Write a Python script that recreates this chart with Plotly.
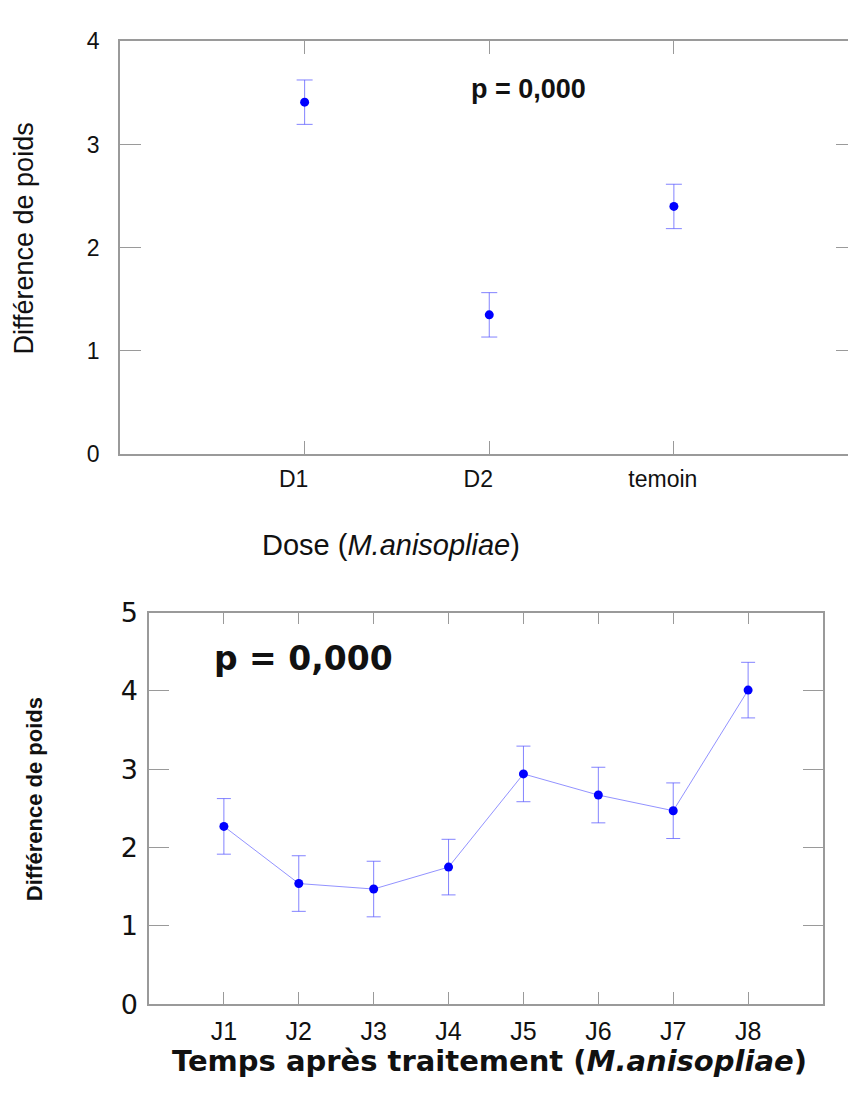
import plotly.graph_objects as go

# ---- data: top chart (dose) ----
doses = ["D1", "D2", "temoin"]
dose_means = [3.41, 1.35, 2.40]
dose_err = [0.215, 0.215, 0.215]

# ---- data: bottom chart (time after treatment) ----
days = ["J1", "J2", "J3", "J4", "J5", "J6", "J7", "J8"]
day_means = [2.27, 1.54, 1.47, 1.75, 2.94, 2.67, 2.47, 4.01]
day_err = [0.355, 0.355, 0.355, 0.355, 0.355, 0.355, 0.355, 0.355]

W, H = 848, 1093
AX = "#9a9a9a"
MARK = "#0000ff"
ERR = "rgba(90,90,255,0.75)"
LINE = "rgba(110,110,255,0.75)"

dose_x = list(range(1, len(doses) + 1))
day_x = list(range(1, len(days) + 1))

fig = go.Figure()

fig.add_trace(go.Scatter(
    x=dose_x, y=dose_means, mode="markers",
    marker=dict(color=MARK, size=9, symbol="circle"),
    error_y=dict(type="data", array=dose_err, color=ERR, thickness=1, width=8),
    xaxis="x", yaxis="y", showlegend=False))

fig.add_trace(go.Scatter(
    x=day_x, y=day_means, mode="lines+markers",
    line=dict(color=LINE, width=1),
    marker=dict(color=MARK, size=9, symbol="circle"),
    error_y=dict(type="data", array=day_err, color=ERR, thickness=1, width=7),
    xaxis="x2", yaxis="y2", showlegend=False))

def px_x(p):
    return p / W

def px_y(p):
    return 1 - p / H

common = dict(showgrid=False, zeroline=False, showline=True, linecolor=AX,
              linewidth=1.5, ticks="inside", tickcolor=AX, tickwidth=1.2)

top_font = dict(family="Liberation Sans, Arial, sans-serif", size=23, color="#111")
bot_xfont = dict(family="Liberation Sans, Arial, sans-serif", size=25, color="#111")
bot_yfont = dict(family="DejaVu Sans, Verdana, sans-serif", size=27, color="#111")

top_dom_y = [px_y(451), px_y(26)]

fig.update_layout(
    width=W, height=H,
    margin=dict(l=0, r=0, t=0, b=0),
    paper_bgcolor="white", plot_bgcolor="white",
    xaxis=dict(domain=[px_x(120), 1.0], range=[0, 3.943],
               tickvals=dose_x, ticktext=doses, ticklen=13,
               tickfont=top_font, ticklabelshift=-11, ticklabelstandoff=3,
               anchor="y", mirror="ticks", **common),
    yaxis=dict(domain=top_dom_y, range=[0, 4],
               tickvals=[0, 1, 2, 3, 4], ticklen=21,
               tickfont=top_font, ticklabelstandoff=14,
               anchor="x", mirror=False, **common),
    # right-side inward ticks of the top panel (its frame line is cut off by the edge)
    yaxis3=dict(domain=top_dom_y, range=[0, 4], overlaying="y", side="right",
                anchor="x", tickvals=[0, 1, 2, 3, 4], ticks="inside", ticklen=12,
                tickcolor=AX, tickwidth=1.2, showticklabels=False,
                showline=False, showgrid=False, zeroline=False),
    xaxis2=dict(domain=[px_x(149), px_x(823)], range=[0, 9],
                tickvals=day_x, ticktext=days, ticklen=12,
                tickfont=bot_xfont, ticklabelstandoff=4,
                anchor="y2", mirror="ticks", **common),
    yaxis2=dict(domain=[px_y(1017), px_y(614)], range=[0, 5],
                tickvals=[0, 1, 2, 3, 4, 5], ticklen=20,
                tickfont=bot_yfont, ticklabelstandoff=4,
                anchor="x2", mirror="ticks", **common),
)

# invisible trace so the right-tick axis is drawn
fig.add_trace(go.Scatter(x=[None], y=[None], xaxis="x", yaxis="y3",
                         showlegend=False, hoverinfo="skip"))

ann = [
    dict(text="<b>p = 0,000</b>", x=px_x(528), y=px_y(75), yanchor="middle",
         font=dict(family="Liberation Sans, Arial, sans-serif", size=27, color="#111")),
    dict(text="Dose (<i>M.anisopliae</i>)", x=px_x(391), y=px_y(544), yanchor="middle",
         font=dict(family="Liberation Sans, Arial, sans-serif", size=29, color="#111")),
    dict(text="Différence de poids", x=px_x(24), y=px_y(229), textangle=-90, yanchor="middle",
         font=dict(family="Liberation Sans, Arial, sans-serif", size=27, color="#111")),
    dict(text="<b>p = 0,000</b>", x=px_x(303), y=px_y(661), yanchor="middle",
         font=dict(family="DejaVu Sans, Verdana, sans-serif", size=33, color="#111")),
    dict(text="<b>Temps après traitement (<i>M.anisopliae</i>)</b>", x=px_x(489), y=px_y(1076),
         yanchor="middle",
         font=dict(family="DejaVu Sans, Verdana, sans-serif", size=29, color="#111")),
    dict(text="<b>Différence de poids</b>", x=px_x(34), y=px_y(806), textangle=-90, yanchor="middle",
         font=dict(family="Liberation Sans, Arial, sans-serif", size=22, color="#111")),
]
for a in ann:
    fig.add_annotation(xref="paper", yref="paper", xanchor="center",
                       showarrow=False, **a)

fig.write_html("out.html", config={"displayModeBar": False},
               post_script="document.body.style.margin='0';")
